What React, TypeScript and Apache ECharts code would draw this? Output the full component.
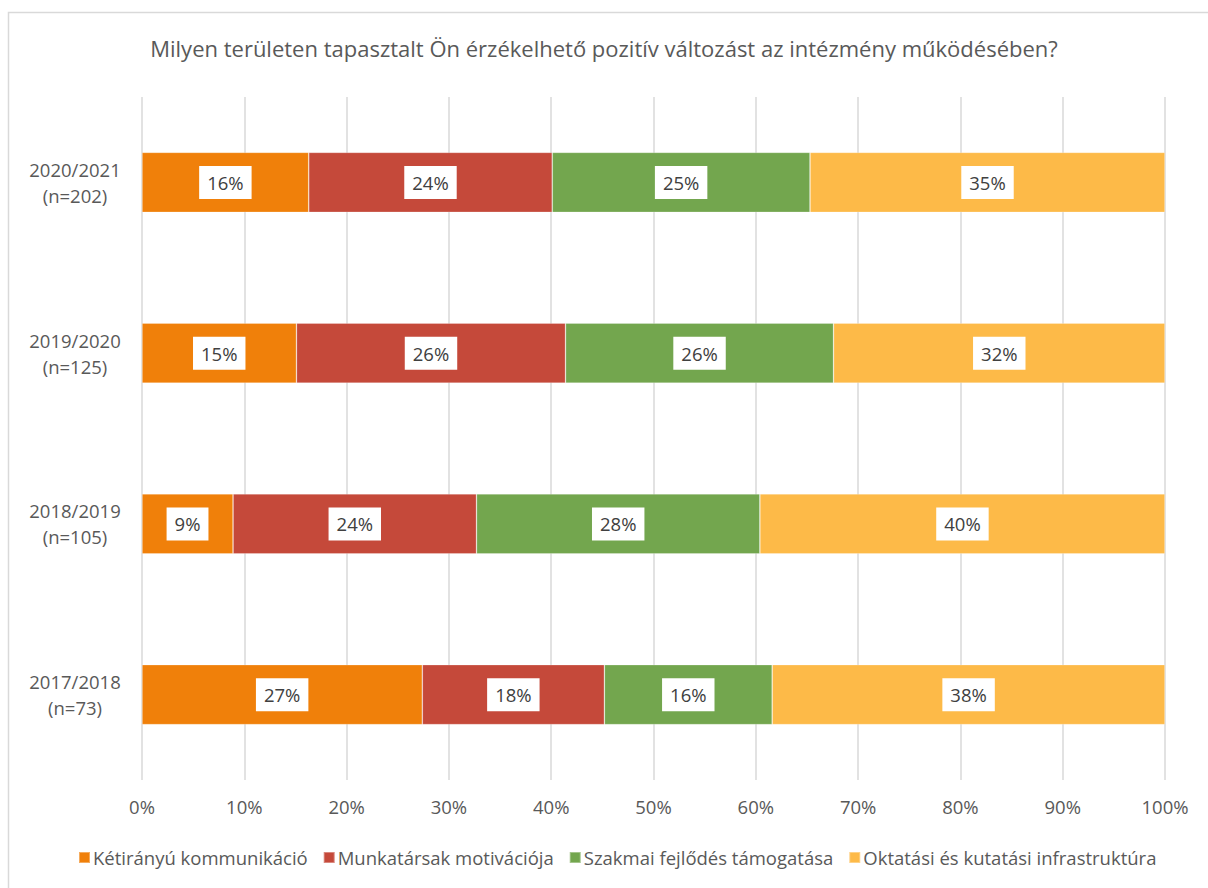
import React, { useEffect, useRef } from "react";
import * as echarts from "echarts";

const categories = ["2017/2018\n(n=73)", "2018/2019\n(n=105)", "2019/2020\n(n=125)", "2020/2021\n(n=202)"];
const seriesNames = [
  "Kétirányú kommunikáció",
  "Munkatársak motivációja",
  "Szakmai fejlődés támogatása",
  "Oktatási és kutatási infrastruktúra",
];
const komm = [27.4, 8.9, 15.1, 16.3];
const motiv = [17.8, 23.8, 26.3, 23.8];
const szakmai = [16.4, 27.7, 26.2, 25.2];
const infra = [38.4, 39.6, 32.4, 34.7];
const colors = ["#F0800A", "#C5493A", "#73A64E", "#FDBA48"];
const xTicks = [0, 10, 20, 30, 40, 50, 60, 70, 80, 90, 100];

const FONT = "Open Sans";
const TXT = "#595959";

export default function App() {
  const ref = useRef<HTMLDivElement>(null);
  useEffect(() => {
    document.body.style.margin = "0";
    const chart = echarts.init(ref.current!, null, { renderer: "svg" });
    const datas = [komm, motiv, szakmai, infra];
    chart.setOption({
      animation: false,
      backgroundColor: "#fff",
      title: {
        text: "Milyen területen tapasztalt Ön érzékelhető pozitív változást az intézmény működésében?",
        left: "center",
        top: 32,
        textStyle: { fontFamily: FONT, fontSize: 22, fontWeight: "normal", color: TXT },
      },
      graphic: [
        {
          type: "rect",
          shape: { x: 8.5, y: 12.5, width: 1210, height: 890 },
          style: { fill: "none", stroke: "#D9D9D9", lineWidth: 1.5 },
          silent: true,
        },
      ],
      legend: {
        bottom: 16,
        left: 73,
        itemWidth: 11,
        itemHeight: 11,
        itemGap: 15,
        icon: "rect",
        textStyle: { fontFamily: FONT, fontSize: 18.5, color: TXT, padding: [0, 0, 0, -2] },
        data: seriesNames,
      },
      grid: { left: 142, right: 43, top: 97, bottom: 108, containLabel: false },
      xAxis: {
        type: "value",
        min: 0,
        max: 100,
        interval: 10,
        axisLabel: {
          formatter: (v: number) => (xTicks.includes(v) ? v + "%" : ""),
          fontFamily: FONT,
          fontSize: 18.5,
          color: TXT,
          margin: 17,
        },
        splitLine: { show: true, lineStyle: { color: "#D9D9D9", width: 1.5 } },
        axisLine: { show: false },
        axisTick: { show: false },
      },
      yAxis: {
        type: "category",
        data: categories,
        axisLabel: { fontFamily: FONT, fontSize: 18.5, color: TXT, lineHeight: 26, margin: 67, align: "center" },
        axisLine: { show: false },
        axisTick: { show: false },
      },
      series: datas.map((d, i) => ({
        name: seriesNames[i],
        type: "bar",
        stack: "total",
        barWidth: 60,
        data: d,
        itemStyle: { color: colors[i], borderColor: "rgba(255,255,255,0.35)", borderWidth: 0.7 },
        label: {
          show: true,
          position: "inside",
          formatter: (p: any) => Math.round(p.value) + "%",
          backgroundColor: "#fff",
          padding: [8, 8, 6, 8],
          fontFamily: FONT,
          fontSize: 18.5,
          color: "#404040",
        },
      })),
    });
    return () => chart.dispose();
  }, []);
  return <div ref={ref} style={{ width: 1208, height: 888 }} />;
}
